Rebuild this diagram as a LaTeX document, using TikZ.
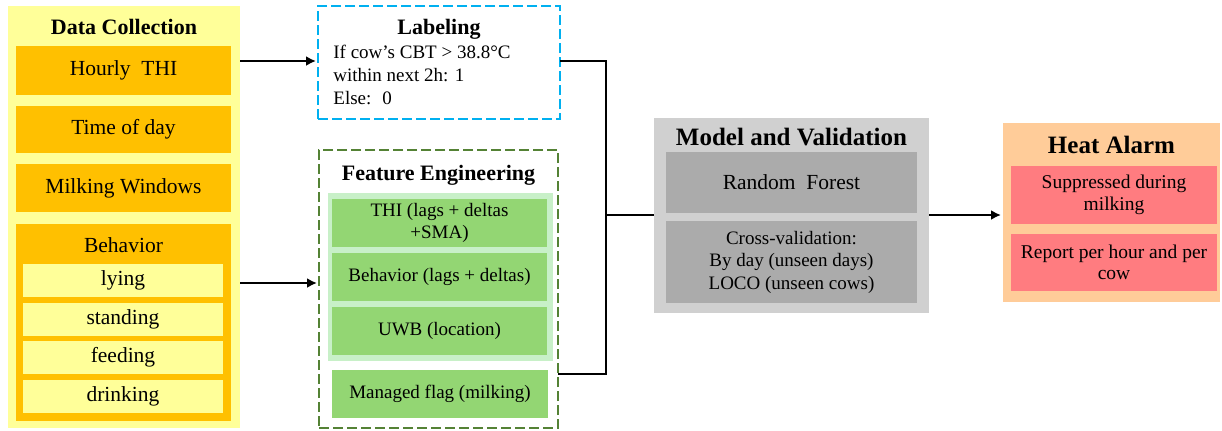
\documentclass[tikz,border=0pt]{standalone}
\usepackage{fontspec}
\setmainfont{Liberation Serif}
\usetikzlibrary{arrows.meta}
\definecolor{paleyel}{HTML}{FFFF99}
\definecolor{amber}{HTML}{FFC000}
\definecolor{skyblue}{HTML}{00B0F0}
\definecolor{darkgreen}{HTML}{548235}
\definecolor{palegreen}{HTML}{C8F0C8}
\definecolor{midgreen}{HTML}{93D673}
\definecolor{lightgray}{HTML}{D0D0D0}
\definecolor{midgray}{HTML}{ABABAB}
\definecolor{peach}{HTML}{FFCC99}
\definecolor{salmon}{HTML}{FF7C80}

\begin{document}
\begin{tikzpicture}[x=0.5pt,y=-0.5pt,
	wh/.style 2 args={minimum width=#1*0.5pt,minimum height=#2*0.5pt},
	blk/.style={inner sep=0pt,outer sep=0pt},
	ttl/.style={font=\bfseries\fontsize{11}{13}\selectfont},
	bigttl/.style={font=\bfseries\fontsize{12.5}{15}\selectfont},
	txt/.style={font=\fontsize{10.75}{12.5}\selectfont},
	small/.style={font=\fontsize{9.5}{11.3}\selectfont,align=center},
	dashbox/.style={line width=1.3pt,dash pattern=on 5pt off 2pt},
	conn/.style={line width=1.3pt},
	arr/.style={conn,-{Latex[length=5pt,width=5pt]}}]
	\useasboundingbox (0,0) rectangle (1222,430);
	% data collection
	\node[blk,wh={232}{422},fill=paleyel] (dc) at (124,217) {};
	\node[ttl] (dct) at (124,27) {Data Collection};
	\node[blk,wh={215}{49},fill=amber,txt] (hourly) at (123.5,70.5) {Hourly \ THI};
	\node[blk,wh={215}{47},fill=amber,txt] (tod) at (123.5,129.5) {Time of day};
	\node[blk,wh={215}{48},fill=amber,txt] (milk) at (123.5,188) {Milking Windows};
	\node[blk,wh={215}{197},fill=amber] (behav) at (123.5,322.5) {};
	\node[txt] (behavt) at (123.5,245) {Behavior};
	\node[blk,wh={200}{33},fill=paleyel,txt] (lying) at (123,280.5) {lying};
	\node[blk,wh={200}{33},fill=paleyel,txt] (stand) at (123,319.5) {standing};
	\node[blk,wh={200}{33},fill=paleyel,txt] (feed) at (123,357.5) {feeding};
	\node[blk,wh={200}{33},fill=paleyel,txt] (drink) at (123,396.5) {drinking};
	% labeling
	\node[blk,wh={242}{113},draw=skyblue,dashbox,fill=white] (lab) at (439,62.5) {};
	\node[ttl] (labt) at (439,29) {Labeling};
	\node[anchor=west,align=left,inner sep=0pt,font=\fontsize{9.5}{11.5}\selectfont] (rule) at (333,75) {If cow's CBT > 38.8°C\\within next 2h: 1\\Else: \ 0};
	% feature engineering
	\node[blk,wh={239}{278},draw=darkgreen,dashbox,fill=white] (fe) at (438.5,289) {};
	\node[ttl] (fet) at (438.5,175) {Feature Engineering};
	\node[blk,wh={225}{168},fill=palegreen] (grp) at (440.5,277) {};
	\node[blk,wh={215}{48},fill=midgreen,small] (thi) at (439.5,223) {THI (lags + deltas\\+SMA)};
	\node[blk,wh={215}{48},fill=midgreen,small] (behf) at (439.5,277) {Behavior (lags + deltas)};
	\node[blk,wh={215}{48},fill=midgreen,small] (uwb) at (439.5,331) {UWB (location)};
	\node[blk,wh={216}{48},fill=midgreen,small] (flag) at (440,394) {Managed flag (milking)};
	% model
	\node[blk,wh={275}{195},fill=lightgray] (mv) at (791.5,215.5) {};
	\node[bigttl] (mvt) at (791.5,137) {Model and Validation};
	\node[blk,wh={251}{61},fill=midgray,font=\fontsize{10.75}{12.5}\selectfont] (rf) at (791.5,182.5) {Random \ Forest};
	\node[blk,wh={251}{82},fill=midgray,small,font=\fontsize{9.5}{11.25}\selectfont] (cv) at (791.5,262) {Cross-validation:\\By day (unseen days)\\LOCO (unseen cows)};
	% heat alarm
	\node[blk,wh={217}{179},fill=peach] (ha) at (1111.5,212.5) {};
	\node[bigttl] (hat) at (1111.5,145) {Heat Alarm};
	\node[blk,wh={206}{58},fill=salmon,small,font=\fontsize{9.75}{10.8}\selectfont] (sup) at (1114,195) {Suppressed during\\milking};
	\node[blk,wh={206}{57},fill=salmon,small,font=\fontsize{9.75}{10.8}\selectfont] (rep) at (1114,262.5) {Report per hour and per\\cow};
	% connectors
	\coordinate (j) at (606,215);
	\draw[arr] (dc.east |- 0,61) -- ([xshift=-1pt]lab.west |- 0,61);
	\draw[arr] (dc.east |- 0,283) -- ([xshift=-1pt]fe.west |- 0,283);
	\draw[conn] (lab.east |- 0,61) -| (j);
	\draw[conn] (fe.east |- 0,374) -| (j);
	\draw[conn] (j) -- (mv.west |- j);
	\draw[arr] (mv.east |- j) -- ([xshift=-1pt]ha.west |- j);
\end{tikzpicture}
\end{document}
